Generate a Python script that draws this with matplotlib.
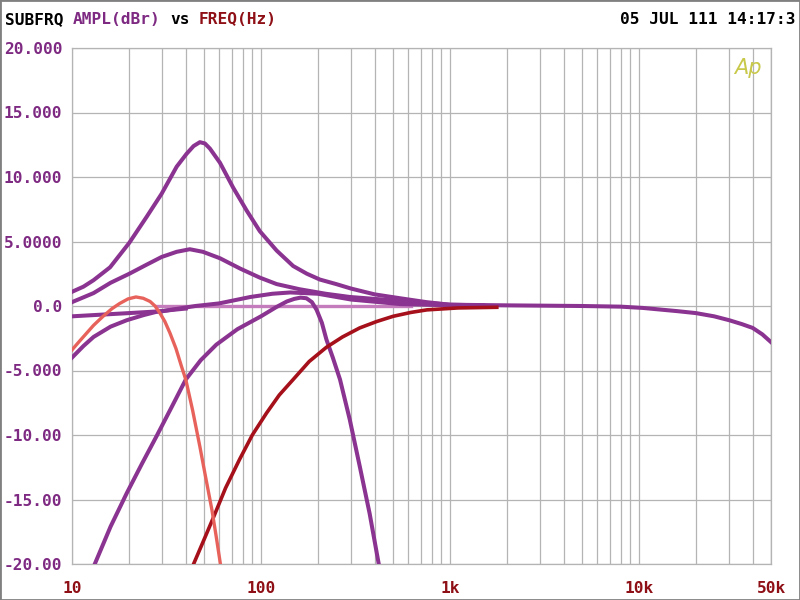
import matplotlib
matplotlib.use("Agg")
import matplotlib.pyplot as plt
from matplotlib.patches import Rectangle
from matplotlib.ticker import FixedLocator, NullFormatter

# colours
PURPLE = "#8a3390"
PINK = "#c47cbd"
SALMON = "#e8625c"
DARKRED = "#a5101a"
TXT_PURPLE = "#7e2a82"
TXT_RED = "#8e1016"
GRID = "#b4b4b4"

# curves (Hz, dBr)
peak_f = [10, 11.5, 13, 15.9, 20.1, 24.8, 29.8, 35.8, 40.4, 44, 47.5, 50.5, 53.7, 60.7,
          71.1, 84, 98.6, 121, 148, 175, 205, 250, 300, 400, 545, 750, 1000, 2000, 5000,
          8000, 10500, 16000, 20000, 25000, 30000, 35000, 40000, 45000, 50000]
peak_db = [1.1, 1.5, 2.0, 3.0, 4.9, 6.9, 8.7, 10.8, 11.8, 12.4, 12.7, 12.6, 12.2, 11.1,
           9.2, 7.4, 5.8, 4.3, 3.1, 2.5, 2.05, 1.7, 1.35, 0.9, 0.6, 0.3, 0.1, 0.05, 0.0,
           -0.05, -0.15, -0.4, -0.55, -0.8, -1.1, -1.4, -1.7, -2.2, -2.8]

bump_f = [10, 13, 16, 20.1, 24.8, 29.8, 35.8, 42, 49.3, 60.7, 77.6, 98.6, 121, 160,
          220, 295, 400, 545, 1000, 1500]
bump_db = [0.3, 1.0, 1.8, 2.5, 3.2, 3.8, 4.2, 4.4, 4.2, 3.7, 2.9, 2.2, 1.7, 1.3,
           0.95, 0.7, 0.55, 0.4, 0.1, 0.05]

mild_f = [10, 20, 30, 45, 60, 88, 115, 143, 200, 300, 545, 1000, 1500]
mild_db = [-0.8, -0.55, -0.4, 0.0, 0.2, 0.7, 0.95, 1.05, 0.95, 0.5, 0.15, 0.05, 0.0]

shelf_f = [10, 11.5, 13, 16, 19.5, 24, 28, 34, 40]
shelf_db = [-4.0, -3.1, -2.4, -1.6, -1.1, -0.7, -0.45, -0.3, -0.2]

flat_f = [28, 620]
flat_db = [0.0, 0.0]

band_f = [13.2, 16, 19.5, 23.5, 28, 33.5, 40, 48, 58, 75, 100, 120, 137, 150, 162, 174,
          186, 197, 210, 222, 240, 262, 295, 334, 376, 420]
band_db = [-20, -17.1, -14.5, -12.2, -10.1, -7.9, -5.7, -4.2, -3.0, -1.8, -0.8, -0.1,
           0.35, 0.55, 0.65, 0.6, 0.3, -0.3, -1.3, -2.6, -4.0, -5.7, -8.8, -12.5, -16.1, -20]

sub_f = [10, 11, 11.96, 13, 14.6, 16.3, 17.9, 19.8, 21.8, 23.8, 25.9, 27.5, 29.2, 31,
         33, 35.5, 38, 40, 43.5, 47.5, 51, 55, 58, 61]
sub_db = [-3.4, -2.7, -2.1, -1.5, -0.8, -0.2, 0.2, 0.55, 0.7, 0.6, 0.35, 0.0, -0.55, -1.2,
          -2.1, -3.3, -4.7, -5.7, -8.1, -10.9, -13.3, -15.8, -17.9, -20]

hp_f = [44, 50, 56, 65, 77, 90, 107, 125, 148, 180, 222, 270, 333, 410, 500, 620, 755,
        1100, 1770]
hp_db = [-20, -18.1, -16.4, -14.1, -11.9, -10.0, -8.3, -6.9, -5.7, -4.3, -3.2, -2.4,
         -1.7, -1.2, -0.8, -0.5, -0.3, -0.15, -0.1]

y_ticks = [20, 15, 10, 5, 0, -5, -10, -15, -20]
y_labels = ["20.000", "15.000", "10.000", "5.0000", "0.0", "-5.000", "-10.00", "-15.00", "-20.00"]
x_ticks = [10, 100, 1000, 10000, 50000]
x_labels = ["10", "100", "1k", "10k", "50k"]
x_grid = [m * 10 ** e for e in range(1, 5) for m in range(1, 10)] + [50000]

MONO = "DejaVu Sans Mono"
FS = 11.6

fig = plt.figure(figsize=(8, 6), dpi=100)
fig.patch.set_facecolor("white")
ax = fig.add_axes([72 / 800, 1 - 564 / 600, (771 - 72) / 800, (564 - 48) / 600])

ax.set_xscale("log")
ax.set_xlim(10, 50000)
ax.set_ylim(-20, 20)

ax.xaxis.set_major_locator(FixedLocator(x_grid))
ax.xaxis.set_minor_locator(FixedLocator([]))
ax.xaxis.set_major_formatter(NullFormatter())
ax.set_yticks(y_ticks)
ax.set_yticklabels(y_labels, family=MONO, fontsize=FS, fontweight="bold", color=TXT_PURPLE)
ax.tick_params(axis="both", length=0)
ax.tick_params(axis="y", pad=7)
ax.grid(True, color=GRID, linewidth=0.9, zorder=0)
for s in ax.spines.values():
    s.set_color(GRID)
    s.set_linewidth(0.9)

for xv, lab in zip(x_ticks, x_labels):
    ax.text(xv, -21.9, lab, ha="center", va="center", family=MONO, fontsize=FS,
            fontweight="bold", color=TXT_RED, clip_on=False)

# white box behind logo
ax.add_patch(Rectangle((0.905, 0.935), 0.095, 0.065, transform=ax.transAxes,
                       facecolor="white", edgecolor="none", zorder=1))
ax.text(0.987, 0.962, "Ap", transform=ax.transAxes, ha="right", va="center",
        fontsize=15, style="italic", family="DejaVu Sans", fontweight="light",
        color="#c8c84a", zorder=2)

lw = 2.9
ax.plot(flat_f, flat_db, color=PINK, lw=2.4, zorder=3)
ax.plot(shelf_f, shelf_db, color=PURPLE, lw=lw, zorder=4)
ax.plot(mild_f, mild_db, color=PURPLE, lw=lw, zorder=4)
ax.plot(bump_f, bump_db, color=PURPLE, lw=lw, zorder=4)
ax.plot(band_f, band_db, color=PURPLE, lw=lw, zorder=4)
ax.plot(peak_f, peak_db, color=PURPLE, lw=lw, zorder=4)
ax.plot(hp_f, hp_db, color=DARKRED, lw=2.6, zorder=5)
ax.plot(sub_f, sub_db, color=SALMON, lw=2.4, zorder=5)

# header
cw = 9.7 / 800
y_head = 1 - 20 / 600
parts = [("SUBFRQ", "black", 0), ("AMPL(dBr)", TXT_PURPLE, 7), ("vs", "black", 17),
         ("FREQ(Hz)", TXT_RED, 20)]
for txt, col, idx in parts:
    fig.text(5 / 800 + idx * cw, y_head, txt, ha="left", va="center", family=MONO,
             fontsize=FS, fontweight="bold", color=col)
fig.text(795 / 800, y_head, "05 JUL 111 14:17:3", ha="right", va="center", family=MONO,
         fontsize=FS, fontweight="bold", color="black")

# window border
fig.add_artist(Rectangle((0, 0), 1, 1, transform=fig.transFigure, fill=False,
                         edgecolor="#808080", linewidth=2))

fig.savefig("out.png", dpi=100)
